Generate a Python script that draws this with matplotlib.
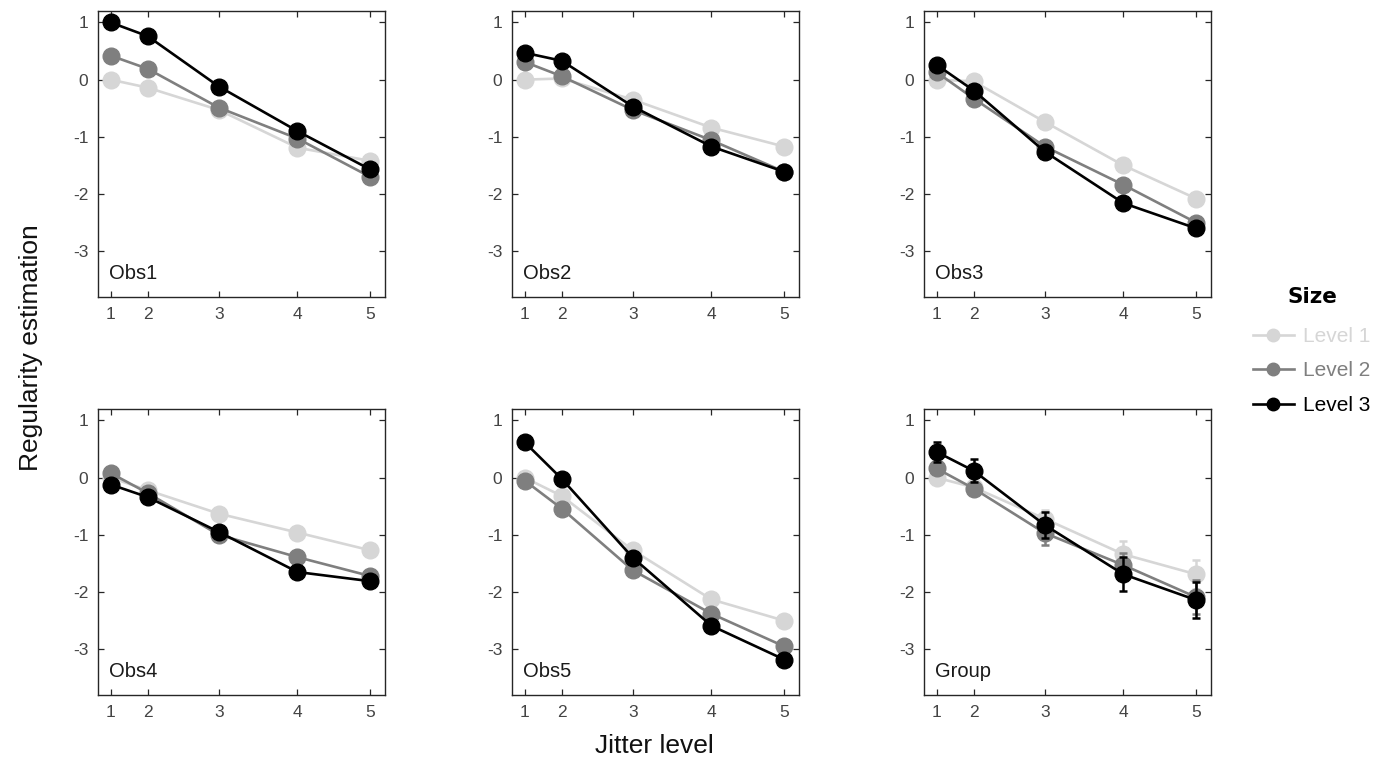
import matplotlib
matplotlib.use("Agg")
import matplotlib.pyplot as plt
from matplotlib.lines import Line2D

plt.rcParams['font.family'] = ['Liberation Sans', 'DejaVu Sans']

# x positions of the jitter levels (non-uniform spacing as in the figure)
jitter_pos = [0.0, 0.5, 1.46, 2.52, 3.5]
jitter_labels = ["1", "2", "3", "4", "5"]
size_levels = ["Level 1", "Level 2", "Level 3"]
panel_names = ["Obs1", "Obs2", "Obs3", "Obs4", "Obs5", "Group"]

obs1_l1 = [0.0, -0.14, -0.53, -1.19, -1.42]
obs1_l2 = [0.42, 0.19, -0.49, -1.03, -1.70]
obs1_l3 = [1.00, 0.76, -0.12, -0.90, -1.57]

obs2_l1 = [0.0, 0.02, -0.35, -0.84, -1.17]
obs2_l2 = [0.31, 0.06, -0.53, -1.06, -1.61]
obs2_l3 = [0.47, 0.33, -0.47, -1.17, -1.61]

obs3_l1 = [0.0, -0.03, -0.74, -1.50, -2.08]
obs3_l2 = [0.13, -0.33, -1.17, -1.84, -2.50]
obs3_l3 = [0.26, -0.19, -1.26, -2.16, -2.60]

obs4_l1 = [0.0, -0.22, -0.63, -0.96, -1.27]
obs4_l2 = [0.08, -0.27, -1.00, -1.39, -1.72]
obs4_l3 = [-0.12, -0.34, -0.95, -1.65, -1.81]

obs5_l1 = [0.0, -0.32, -1.27, -2.13, -2.50]
obs5_l2 = [-0.05, -0.54, -1.62, -2.38, -2.95]
obs5_l3 = [0.62, -0.02, -1.40, -2.59, -3.18]

group_l1 = [0.0, -0.17, -0.72, -1.34, -1.69]
group_l2 = [0.16, -0.19, -0.97, -1.53, -2.09]
group_l3 = [0.45, 0.12, -0.83, -1.69, -2.14]
group_l1_err = [0.0, 0.06, 0.15, 0.23, 0.25]
group_l2_err = [0.10, 0.08, 0.20, 0.22, 0.30]
group_l3_err = [0.18, 0.20, 0.23, 0.30, 0.32]

panels = [
    (obs1_l1, obs1_l2, obs1_l3),
    (obs2_l1, obs2_l2, obs2_l3),
    (obs3_l1, obs3_l2, obs3_l3),
    (obs4_l1, obs4_l2, obs4_l3),
    (obs5_l1, obs5_l2, obs5_l3),
    (group_l1, group_l2, group_l3),
]
group_errs = (group_l1_err, group_l2_err, group_l3_err)

colors = ["#d6d6d6", "#7f7f7f", "#000000"]
spine_col = "#262626"
tick_label_col = "#444444"

fig = plt.figure(figsize=(13.87, 7.59), dpi=100)

lefts = [98 / 1387, 512 / 1387, 924 / 1387]
w = 287 / 1387
bottoms = [1 - 297 / 759, 1 - 695 / 759]
h = 286 / 759

for i, (name, series) in enumerate(zip(panel_names, panels)):
    r, c = divmod(i, 3)
    ax = fig.add_axes([lefts[c], bottoms[r], w, h])
    for k, (vals, col) in enumerate(zip(series, colors)):
        if name == "Group":
            ax.errorbar(jitter_pos, vals, yerr=group_errs[k], color=col, lw=1.9,
                        marker='o', ms=12, capsize=3, capthick=1.8, elinewidth=1.8,
                        zorder=2 + k)
        else:
            ax.plot(jitter_pos, vals, color=col, lw=1.9, marker='o', ms=12,
                    zorder=2 + k)
    ax.set_xlim(-0.17, 3.70)
    ax.set_ylim(-3.8, 1.2)
    ax.set_xticks(jitter_pos)
    ax.set_xticklabels(jitter_labels)
    ax.set_yticks([1, 0, -1, -2, -3])
    ax.set_yticklabels(["1", "0", "-1", "-2", "-3"])
    ax.tick_params(direction='in', length=4, width=0.9, color=spine_col,
                   labelcolor=tick_label_col, labelsize=12.5, top=True, right=True,
                   pad=7)
    for sp in ax.spines.values():
        sp.set_color(spine_col)
        sp.set_linewidth(1.0)
    ax.text(0.04, 0.05, name, transform=ax.transAxes, fontsize=14.5,
            color="#1a1a1a", ha='left', va='bottom')

fig.text(0.022, 0.542, "Regularity estimation", rotation=90, fontsize=19,
         ha='center', va='center', color="#111111")
fig.text(654 / 1387, 0.008, "Jitter level", fontsize=19, ha='center',
         va='baseline', color="#111111")

fig.text(1312 / 1387, 1 - 297 / 759, "Size", fontsize=15.5, fontweight='heavy',
         family='DejaVu Sans', ha='center', va='center', color='black')

handles = [Line2D([0], [0], color=col, lw=1.9, marker='o', ms=9) for col in colors]
leg = fig.legend(handles, size_levels, loc='upper left',
                 bbox_to_anchor=(1253 / 1387, 1 - 327 / 759), frameon=False,
                 borderpad=0, borderaxespad=0,
                 fontsize=15, handlelength=1.95, handletextpad=0.45,
                 labelspacing=0.74)
for txt, col in zip(leg.get_texts(), colors):
    txt.set_color(col)

fig.savefig("out.png", dpi=100)
